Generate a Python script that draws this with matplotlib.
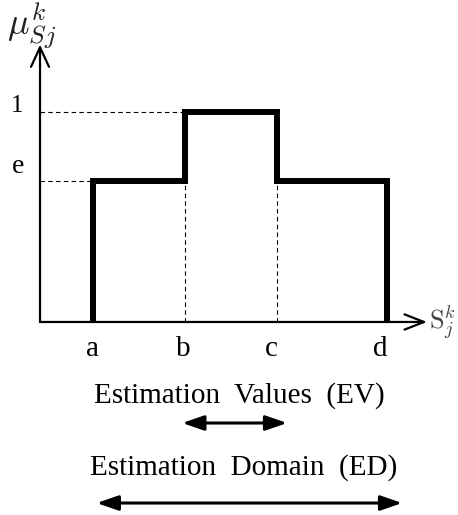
import matplotlib
matplotlib.use("Agg")
import matplotlib.pyplot as plt

# data
x_labels = ["a", "b", "c", "d"]
x_points = [1.0, 2.0, 3.0, 4.2]
e_level = 0.67
top_level = 1.0
y_labels = ["1", "e"]
ev_span = [1.97, 3.11]
ed_span = [1.04, 4.36]
axis_x_range = [0.424, 4.63]
axis_y_range = [0.0, 1.32]

plt.rcParams['mathtext.fontset'] = 'cm'
serif = ['Liberation Serif', 'DejaVu Serif']

fig = plt.figure(figsize=(4.58, 5.15), dpi=100)
ax = fig.add_axes([0, 0, 1, 1])
ax.set_xlim(-0.0109, 4.967)
ax.set_ylim(-0.919, 1.533)
ax.axis('off')

a, b, c, d = x_points
# step membership function
sx = [a, a, b, b, c, c, d, d]
sy = [0, e_level, e_level, top_level, top_level, e_level, e_level, 0]
ax.plot(sx, sy, color='black', lw=4.3, solid_joinstyle='miter', solid_capstyle='butt', zorder=3)

# dashed guides
dash = (0, (4, 3))
ax.plot([axis_x_range[0], b], [top_level, top_level], ls=dash, color='black', lw=0.8)
ax.plot([axis_x_range[0], a], [e_level, e_level], ls=dash, color='black', lw=0.8)
ax.plot([b, b], [0, e_level], ls=dash, color='black', lw=0.8)
ax.plot([c, c], [0, e_level], ls=dash, color='black', lw=0.8)

# axes with open arrow heads
ax.annotate('', xy=(axis_x_range[1], 0), xytext=(axis_x_range[0], 0),
            arrowprops=dict(arrowstyle='->,head_length=1.4,head_width=0.55', lw=1.6, color='black',
                            shrinkA=0, shrinkB=0))
ax.annotate('', xy=(axis_x_range[0], axis_y_range[1]), xytext=(axis_x_range[0], 0),
            arrowprops=dict(arrowstyle='->,head_length=1.4,head_width=0.65', lw=1.6, color='black',
                            shrinkA=0, shrinkB=0))

# axis labels
ax.text(0.335, 1.41, r'$\mu^k_{Sj}$', fontsize=26, ha='center', va='center', color='#222222')
ax.text(4.655, 0.0, r'$\mathrm{S}_j^k$', fontsize=19, ha='left', va='center',
        color='#444444')

# y tick labels
ax.text(0.18, top_level + 0.03, y_labels[0], fontsize=18, family=serif, ha='center', va='center')
ax.text(0.19, e_level + 0.07, y_labels[1], fontsize=20, family=serif, ha='center', va='center')

# x tick labels
shifts = [-0.01, -0.02, -0.065, -0.075]
for xv, lab, s in zip(x_points, x_labels, shifts):
    ax.text(xv + s, -0.13, lab, fontsize=21, family=serif, ha='center', va='center')

# EV / ED annotations
ax.text(2.59, -0.35, 'Estimation  Values  (EV)', fontsize=21, family=serif, ha='center', va='center')
ax.annotate('', xy=(ev_span[1], -0.481), xytext=(ev_span[0], -0.481),
            arrowprops=dict(arrowstyle='<|-|>,head_length=1.3,head_width=0.45', lw=2.2, color='black',
                            shrinkA=0, shrinkB=0))
ax.text(2.64, -0.695, 'Estimation  Domain  (ED)', fontsize=21, family=serif, ha='center', va='center')
ax.annotate('', xy=(ed_span[1], -0.862), xytext=(ed_span[0], -0.862),
            arrowprops=dict(arrowstyle='<|-|>,head_length=1.3,head_width=0.45', lw=2.2, color='black',
                            shrinkA=0, shrinkB=0))

fig.savefig('out.png', dpi=100)
